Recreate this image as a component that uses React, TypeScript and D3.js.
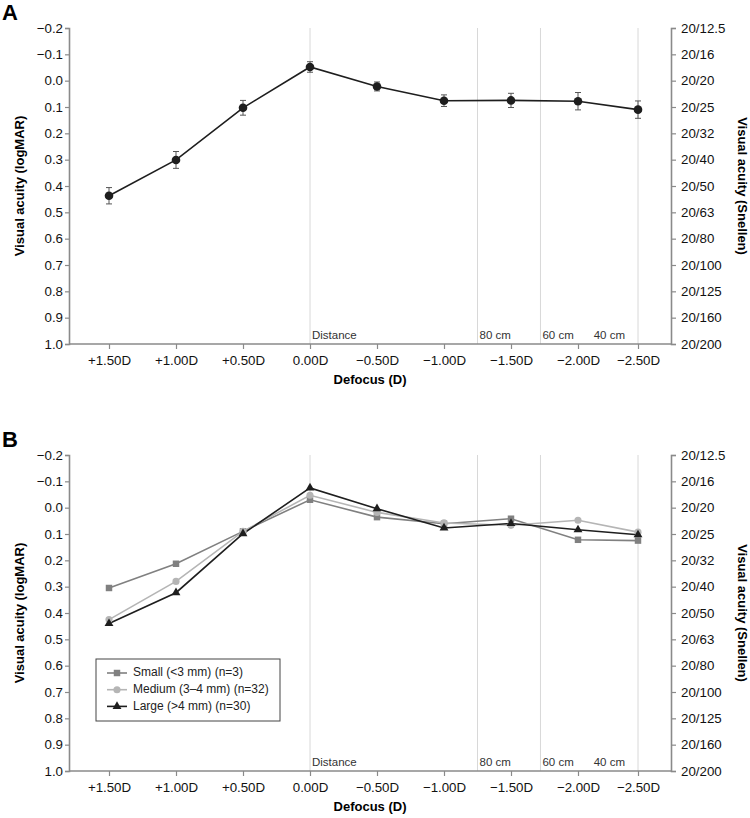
import { useEffect, useRef } from 'react';
import * as d3 from 'd3';

const defocus = [1.5, 1.0, 0.5, 0.0, -0.5, -1.0, -1.5, -2.0, -2.5];
const defocusLabels = ['+1.50D', '+1.00D', '+0.50D', '0.00D', '−0.50D', '−1.00D', '−1.50D', '−2.00D', '−2.50D'];

// panel A: mean logMAR and error half-width
const meanVA = [0.437, 0.301, 0.103, -0.052, 0.022, 0.076, 0.075, 0.078, 0.11];
const errVA = [0.031, 0.032, 0.028, 0.02, 0.017, 0.022, 0.027, 0.033, 0.033];

// panel B: by pupil size
const smallVA = [0.305, 0.213, 0.09, -0.03, 0.036, 0.061, 0.042, 0.122, 0.125];
const mediumVA = [0.425, 0.28, 0.09, -0.047, 0.018, 0.058, 0.067, 0.048, 0.093];
const largeVA = [0.44, 0.323, 0.099, -0.075, 0.004, 0.077, 0.06, 0.084, 0.103];

const logmarTicks = [-0.2, -0.1, 0.0, 0.1, 0.2, 0.3, 0.4, 0.5, 0.6, 0.7, 0.8, 0.9, 1.0];
const snellenLabels = ['20/12.5', '20/16', '20/20', '20/25', '20/32', '20/40', '20/50', '20/63', '20/80', '20/100', '20/125', '20/160', '20/200'];

const refDefocus = [0.0, -1.25, -1.72, -2.5];
const refLabels = ['Distance', '80 cm', '60 cm', '40 cm'];

const seriesNames = ['Small (<3 mm) (n=3)', 'Medium (3–4 mm) (n=32)', 'Large (>4 mm) (n=30)'];
const seriesColors = ['#808080', '#b5b5b5', '#1e1e1e'];
const seriesShapes = [d3.symbolSquare, d3.symbolCircle, d3.symbolTriangle];
const seriesSizes = [42, 40, 34];

const FONT = 'Arial, "Liberation Sans", Helvetica, sans-serif';
const AXIS_COLOR = '#8a8a8a';

const fmtLogmar = (v: number) => (v < 0 ? '−' : '') + Math.abs(v).toFixed(1);

export default function App() {
  const svgRef = useRef<SVGSVGElement>(null);

  useEffect(() => {
    if (!svgRef.current) return;
    const svg = d3.select(svgRef.current);
    svg.selectAll('*').remove();

    const left = 69;
    const right = 671;
    const x = d3.scaleLinear().domain([1.5, -2.0, -2.5]).range([109, 578, 638]);

    const drawPanel = (top: number, bottom: number, letter: string) => {
      const g = svg.append('g');
      const y = d3.scaleLinear().domain([-0.2, 1.0]).range([top, bottom]);

      g.append('text')
        .attr('x', 2).attr('y', top - 8)
        .attr('font-family', FONT).attr('font-size', 22).attr('font-weight', 'bold')
        .text(letter);

      // reference lines
      refDefocus.forEach((d, i) => {
        g.append('line')
          .attr('x1', x(d)).attr('x2', x(d))
          .attr('y1', top).attr('y2', bottom)
          .attr('stroke', '#d8d8d8').attr('stroke-width', 1);
        const last = i === refDefocus.length - 1;
        g.append('text')
          .attr('x', last ? x(d) - 13 : x(d) + 2)
          .attr('y', bottom - 5)
          .attr('text-anchor', last ? 'end' : 'start')
          .attr('font-family', FONT).attr('font-size', 11.5).attr('fill', '#333')
          .text(refLabels[i]);
      });

      // left axis
      const yAxisL = d3.axisLeft(y).tickValues(logmarTicks).tickFormat(d => fmtLogmar(+d)).tickSize(4).tickPadding(2);
      const gl = g.append('g').attr('transform', `translate(${left},0)`).call(yAxisL);

      // right axis
      const yAxisR = d3.axisRight(y).tickValues(logmarTicks).tickFormat((_, i) => snellenLabels[i]).tickSize(5).tickPadding(5);
      const gr = g.append('g').attr('transform', `translate(${right},0)`).call(yAxisR);

      // bottom axis
      const xAxis = d3.axisBottom(x).tickValues(defocus).tickFormat((_, i) => defocusLabels[i]).tickSize(5).tickPadding(7);
      const gb = g.append('g').attr('transform', `translate(0,${bottom})`).call(xAxis);
      gb.select('.domain').attr('d', `M${left},0H${right}`);

      [gl, gr, gb].forEach(a => {
        a.select('.domain').attr('stroke', AXIS_COLOR).attr('stroke-width', 1.6);
        a.selectAll('.tick line').attr('stroke', AXIS_COLOR).attr('stroke-width', 1.2);
        a.selectAll('.tick text').attr('font-family', FONT).attr('font-size', 13.3).attr('fill', '#111');
      });

      g.append('text')
        .attr('x', (left + right) / 2).attr('y', bottom + 40)
        .attr('text-anchor', 'middle')
        .attr('font-family', FONT).attr('font-size', 13).attr('font-weight', 'bold')
        .text('Defocus (D)');

      g.append('text')
        .attr('transform', `translate(21,${(top + bottom) / 2}) rotate(-90)`)
        .attr('text-anchor', 'middle').attr('dominant-baseline', 'middle')
        .attr('font-family', FONT).attr('font-size', 13).attr('font-weight', 'bold')
        .text('Visual acuity (logMAR)');

      g.append('text')
        .attr('transform', `translate(741,${(top + bottom) / 2}) rotate(90)`)
        .attr('text-anchor', 'middle').attr('dominant-baseline', 'middle')
        .attr('font-family', FONT).attr('font-size', 13).attr('font-weight', 'bold')
        .text('Visual acuity (Snellen)');

      return { g, y };
    };

    // Panel A
    {
      const { g, y } = drawPanel(28, 344, 'A');
      const line = d3.line<number>().x((_, i) => x(defocus[i])).y(v => y(v));
      g.append('path').datum(meanVA).attr('d', line)
        .attr('fill', 'none').attr('stroke', '#1e1e1e').attr('stroke-width', 1.6);

      const eb = g.append('g').attr('stroke', '#555').attr('stroke-width', 1);
      meanVA.forEach((v, i) => {
        const cx = x(defocus[i]);
        const y1 = y(v - errVA[i]);
        const y2 = y(v + errVA[i]);
        eb.append('line').attr('x1', cx).attr('x2', cx).attr('y1', y1).attr('y2', y2);
        eb.append('line').attr('x1', cx - 3).attr('x2', cx + 3).attr('y1', y1).attr('y2', y1);
        eb.append('line').attr('x1', cx - 3).attr('x2', cx + 3).attr('y1', y2).attr('y2', y2);
      });

      g.selectAll('circle.pt').data(meanVA).join('circle')
        .attr('class', 'pt')
        .attr('cx', (_, i) => x(defocus[i])).attr('cy', d => y(d))
        .attr('r', 4.3).attr('fill', '#1e1e1e');
    }

    // Panel B
    {
      const { g, y } = drawPanel(455, 771, 'B');
      const series = [smallVA, mediumVA, largeVA];
      const line = d3.line<number>().x((_, i) => x(defocus[i])).y(v => y(v));
      series.forEach((vals, s) => {
        g.append('path').datum(vals).attr('d', line)
          .attr('fill', 'none').attr('stroke', seriesColors[s]).attr('stroke-width', 1.6);
      });
      series.forEach((vals, s) => {
        const sym = d3.symbol().type(seriesShapes[s]).size(seriesSizes[s]);
        g.selectAll(`path.m${s}`).data(vals).join('path')
          .attr('class', `m${s}`)
          .attr('transform', (d, i) => `translate(${x(defocus[i])},${y(d)})`)
          .attr('d', sym())
          .attr('fill', seriesColors[s]);
      });

      // legend
      const lg = g.append('g').attr('transform', 'translate(96,659)');
      lg.append('rect').attr('width', 184).attr('height', 62)
        .attr('fill', '#fff').attr('stroke', '#444').attr('stroke-width', 1);
      seriesNames.forEach((name, s) => {
        const ry = 14 + s * 16.7;
        lg.append('line').attr('x1', 11).attr('x2', 31).attr('y1', ry).attr('y2', ry)
          .attr('stroke', seriesColors[s]).attr('stroke-width', 1.6);
        lg.append('path')
          .attr('transform', `translate(21,${ry})`)
          .attr('d', d3.symbol().type(seriesShapes[s]).size(seriesSizes[s])())
          .attr('fill', seriesColors[s]);
        lg.append('text').attr('x', 37).attr('y', ry)
          .attr('dominant-baseline', 'middle')
          .attr('font-family', FONT).attr('font-size', 12).attr('fill', '#222')
          .text(name);
      });
    }
  }, []);

  return (
    <svg
      ref={svgRef}
      width={750}
      height={818}
      style={{ position: 'absolute', left: 0, top: 0, background: '#fff' }}
    />
  );
}
